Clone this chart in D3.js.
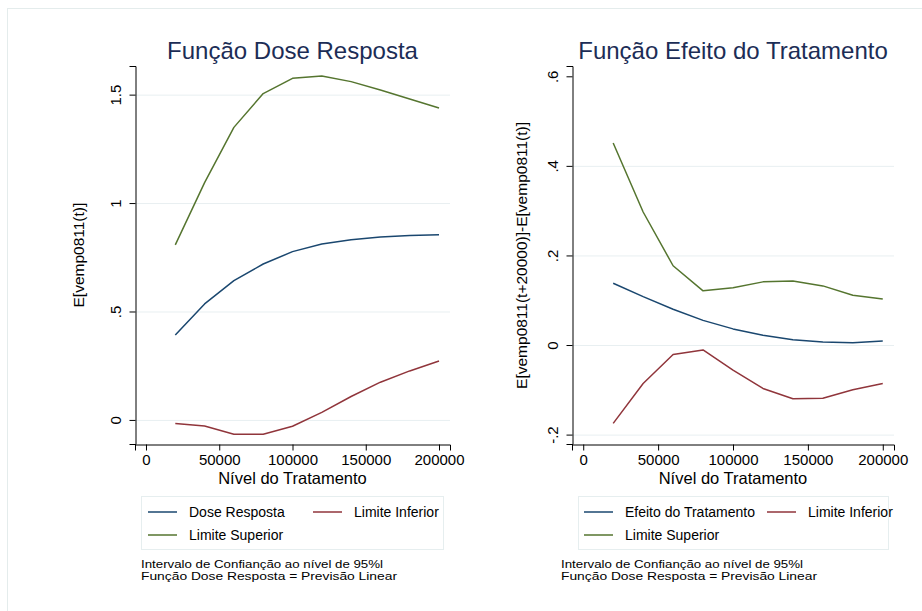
<!DOCTYPE html>
<html><head><meta charset="utf-8">
<script src="https://cdn.jsdelivr.net/npm/d3@7"></script>
<style>body{margin:0;background:#fff}svg{display:block;font-family:"Liberation Sans",Arial,sans-serif}</style>
</head><body>
<svg id="c" width="922" height="611"></svg>
<script>
const xValues = [20000,40000,60000,80000,100000,120000,140000,160000,180000,200000];
const xTicks = [0,50000,100000,150000,200000];

// Left panel: dose response
const doseResposta = [0.392,0.535,0.642,0.719,0.776,0.811,0.831,0.844,0.850,0.854];
const doseInferior = [-0.017,-0.028,-0.066,-0.066,-0.029,0.035,0.108,0.174,0.226,0.272];
const doseSuperior = [0.807,1.094,1.349,1.505,1.575,1.586,1.560,1.521,1.480,1.438];
const doseYTicks = [0,0.5,1,1.5];
const doseYTickLabels = ["0",".5","1","1.5"];
const doseGrid = [0,0.5,1,1.5];

// Right panel: treatment effect
const efeitoTratamento = [0.138,0.108,0.080,0.055,0.036,0.022,0.012,0.007,0.005,0.009];
const efeitoInferior = [-0.175,-0.086,-0.021,-0.011,-0.056,-0.097,-0.120,-0.119,-0.100,-0.086];
const efeitoSuperior = [0.451,0.297,0.177,0.121,0.128,0.141,0.143,0.132,0.111,0.103];
const efeitoYTicks = [-0.2,0,0.2,0.4,0.6];
const efeitoYTickLabels = ["-.2","0",".2",".4",".6"];
const efeitoGrid = [-0.2,0,0.2,0.4];

const notes = ["Intervalo de Confianção ao nível de 95%l","Função Dose Resposta = Previsão Linear"];

const BLUE="#1a476f", RED="#90353b", GREEN="#55752f", TITLE="#1c2d56", GRID="#e8eff1";

const svg = d3.select("#c");
// outer frame
svg.append("rect").attr("x",7.5).attr("y",8.5).attr("width",930).attr("height",620)
  .attr("fill","none").attr("stroke","#e4ecec").attr("stroke-width",1);

function panel(cfg){
  const g = svg.append("g");
  const x = d3.scaleLinear().domain([-7500,207500]).range([cfg.x0,cfg.x1]);
  const y = d3.scaleLinear().domain(cfg.yDom).range([444,66]);
  // grid
  g.selectAll(".grid").data(cfg.grid).join("line")
    .attr("x1",cfg.x0).attr("x2",cfg.x1)
    .attr("y1",d=>y(d)+0.5).attr("y2",d=>y(d)+0.5)
    .attr("stroke",GRID).attr("stroke-width",1);
  // axes
  const ax = g.append("g").attr("transform","translate(0,444.5)")
    .call(d3.axisBottom(x).tickValues(xTicks).tickFormat(d3.format("d")).tickSize(6).tickPadding(4));
  ax.selectAll("text").attr("font-size",15).attr("fill","#000").attr("font-family","Liberation Sans, Arial, sans-serif");
  const ay = g.append("g").attr("transform",`translate(${cfg.x0+0.5},0)`)
    .call(d3.axisLeft(y).tickValues(cfg.yTicks).tickFormat((d,i)=>cfg.yLabels[i]).tickSize(6).tickPadding(4));
  ay.selectAll("text").attr("font-size",15).attr("fill","#000")
    .attr("font-family","Liberation Sans, Arial, sans-serif")
    .attr("x",null).attr("dy",null).attr("text-anchor","middle")
    .attr("transform","translate(-15,0) rotate(-90)");
  [ax,ay].forEach(a=>{a.select(".domain").attr("stroke","#000");a.selectAll(".tick line").attr("stroke","#000");});
  // lines
  const series=[[cfg.sup,GREEN],[cfg.main,BLUE],[cfg.inf,RED]];
  const line = d3.line().x((d,i)=>x(xValues[i])).y(d=>y(d));
  series.forEach(([data,col])=>{
    g.append("path").datum(data).attr("d",line).attr("fill","none")
      .attr("stroke",col).attr("stroke-width",1.5).attr("stroke-linejoin","round");
  });
  const cx=(cfg.x0+cfg.x1)/2;
  // title
  g.append("text").attr("x",cx).attr("y",59).attr("text-anchor","middle")
    .attr("font-size",24).attr("fill",TITLE).text(cfg.title);
  // x label
  g.append("text").attr("x",cx).attr("y",484).attr("text-anchor","middle")
    .attr("font-size",16.5).attr("fill","#000").text("Nível do Tratamento");
  // y label
  g.append("text").attr("transform",`translate(${cfg.yLabX},${y(cfg.yLabMid)}) rotate(-90)`)
    .attr("text-anchor","middle").attr("font-size",15.5).attr("fill","#000").text(cfg.yTitle);
  // legend
  const lg=g.append("g");
  lg.append("rect").attr("x",cfg.lx0+0.5).attr("y",496.5).attr("width",cfg.lx1-cfg.lx0).attr("height",53)
    .attr("fill","#fff").attr("stroke","#e6eeef");
  const items=[[cfg.mainName,BLUE,cfg.lc1,512],[ "Limite Inferior",RED,cfg.lc2,512],["Limite Superior",GREEN,cfg.lc1,535]];
  items.forEach(([t,col,lx,ly])=>{
    lg.append("line").attr("x1",lx).attr("x2",lx+29).attr("y1",ly).attr("y2",ly).attr("stroke",col).attr("stroke-width",1.5);
    lg.append("text").attr("x",lx+41).attr("y",ly+5).attr("font-size",14).attr("fill","#000").text(t);
  });
  // notes
  const widths=[242,256];
  notes.forEach((n,i)=>{
    g.append("text").attr("x",cfg.nx).attr("y",567.5+i*12).attr("font-size",10.5).attr("fill","#000")
      .attr("textLength",widths[i]).attr("lengthAdjust","spacingAndGlyphs").text(n);
  });
}

panel({x0:135,x1:450,yDom:[-0.111,1.632],grid:doseGrid,yTicks:doseYTicks,yLabels:doseYTickLabels,
  sup:doseSuperior,main:doseResposta,inf:doseInferior,title:"Função Dose Resposta",
  yTitle:"E[vemp0811(t)]",yLabX:84,yLabMid:0.76,lx0:141,lx1:443,lc1:148,lc2:313,mainName:"Dose Resposta",nx:141});
panel({x0:572,x1:894,yDom:[-0.221,0.623],grid:efeitoGrid,yTicks:efeitoYTicks,yLabels:efeitoYTickLabels,
  sup:efeitoSuperior,main:efeitoTratamento,inf:efeitoInferior,title:"Função Efeito do Tratamento",
  yTitle:"E[vemp0811(t+20000)]-E[vemp0811(t)]",yLabX:527,yLabMid:0.2,lx0:578,lx1:888,lc1:584,lc2:767,mainName:"Efeito do Tratamento",nx:561});
</script>
</body></html>
